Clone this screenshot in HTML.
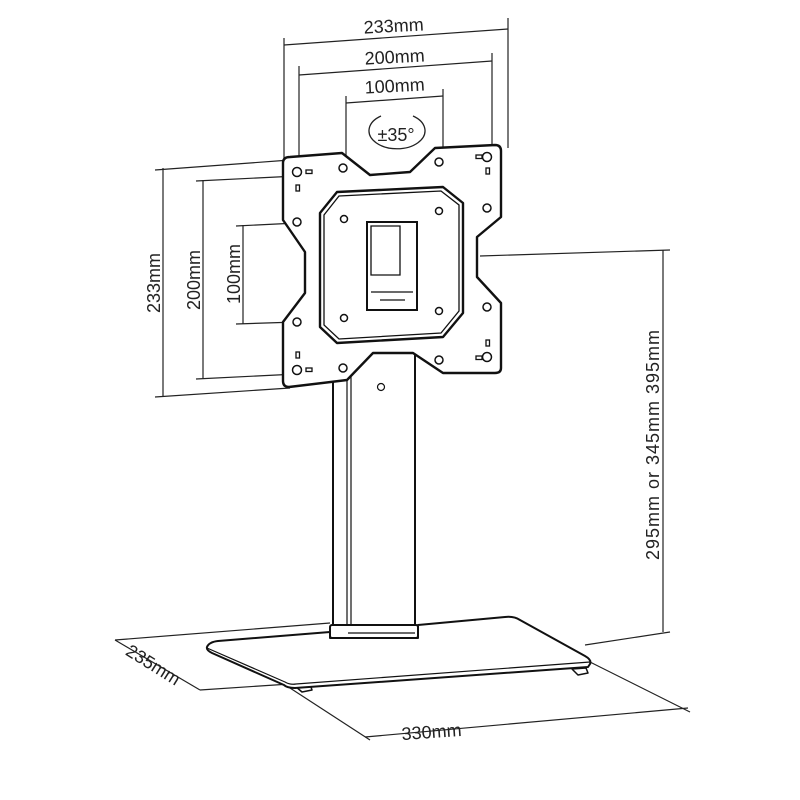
<!DOCTYPE html>
<html><head><meta charset="utf-8"><style>
html,body{margin:0;padding:0;background:#fff;width:800px;height:800px;overflow:hidden}
text{font-family:"Liberation Sans",sans-serif;font-size:18px;fill:#222}
</style></head><body>
<svg width="800" height="800" viewBox="0 0 800 800" xmlns="http://www.w3.org/2000/svg">
<g stroke="#222" fill="none" stroke-width="1.2">
<!-- top dims -->
<line x1="284" y1="38" x2="284" y2="160"/>
<line x1="508" y1="18" x2="508" y2="148"/>
<line x1="284" y1="45" x2="508" y2="29"/>
<line x1="299" y1="66" x2="299" y2="168"/>
<line x1="492" y1="53" x2="492" y2="155"/>
<line x1="299" y1="75" x2="492" y2="61"/>
<line x1="346" y1="96" x2="346" y2="165"/>
<line x1="443" y1="89" x2="443" y2="160"/>
<line x1="346" y1="103" x2="443" y2="96"/>
<path d="M381,116 A28,18 0 1 0 413,116" stroke-width="1.3"/>
<!-- left dims -->
<line x1="155" y1="170" x2="290" y2="160"/>
<line x1="155" y1="397" x2="290" y2="388"/>
<line x1="163" y1="168" x2="163" y2="397"/>
<line x1="196" y1="181" x2="297" y2="176"/>
<line x1="196" y1="379" x2="297" y2="374"/>
<line x1="203" y1="180" x2="203" y2="379"/>
<line x1="236" y1="226" x2="297" y2="223"/>
<line x1="236" y1="324" x2="297" y2="322"/>
<line x1="243" y1="225" x2="243" y2="324"/>
<!-- right dims -->
<line x1="480" y1="256" x2="670" y2="250"/>
<line x1="663" y1="250" x2="663" y2="632"/>
<line x1="585" y1="645" x2="670" y2="632"/>
<!-- base dims -->
<line x1="115" y1="640" x2="330" y2="623"/>
<line x1="115" y1="640" x2="200" y2="690"/>
<line x1="200" y1="690" x2="290" y2="684"/>
<line x1="290" y1="688" x2="370" y2="740"/>
<line x1="590" y1="662" x2="690" y2="712"/>
<line x1="365" y1="737" x2="688" y2="708"/>
</g>
<!-- column (drawn before plate) -->
<g stroke="#111" fill="#fff" stroke-width="2">
<rect x="333" y="350" width="82" height="276"/>
<rect x="330" y="625" width="88" height="13" rx="2"/>
</g>
<g stroke="#111" stroke-width="1.2">
<line x1="347" y1="370" x2="347" y2="625"/><line x1="351" y1="370" x2="351" y2="625"/>
<line x1="348" y1="633" x2="415" y2="633"/>
<circle cx="381" cy="387" r="3.5" fill="#fff"/>
</g>
<!-- plate -->
<g stroke="#111" fill="#fff" stroke-width="2.4" stroke-linejoin="round">
<path d="M290,157 L342,153 L370,175 L410,172 L435,148 L495,145 Q501,145 501,151 L501,217 L477,237 L477,277 L501,303 L501,368 Q501,373 495,373 L443,373 L413,353 L373,353 L347,380 L289,387 Q283,387 283,381 L283,322 L305,293 L305,252 L283,220 L283,163 Q283,157 290,157 Z"/>
<path d="M337,192 L443,187 L463,203 L463,313 L443,337 L337,343 L320,327 L320,213 Z"/>
</g>
<g stroke="#111" fill="none" stroke-width="1.3">
<path d="M339,196 L441,191 L459,205 L459,311 L441,333 L339,339 L324,325 L324,215 Z"/>
<rect x="367" y="222" width="50" height="88" stroke-width="2"/>
<path d="M371,226 L400,226 L400,275 L371,275 Z"/>
<path d="M371,292 L413,292 M380,300 L405,300"/>
<g fill="#fff" stroke-width="1.5">
<circle cx="297" cy="172" r="4.5"/><circle cx="487" cy="157" r="4.5"/>
<circle cx="487" cy="357" r="4.5"/><circle cx="297" cy="370" r="4.5"/>
<circle cx="343" cy="168" r="4"/><circle cx="439" cy="162" r="4"/>
<circle cx="297" cy="222" r="4"/><circle cx="487" cy="208" r="4"/>
<circle cx="487" cy="307" r="4"/><circle cx="297" cy="322" r="4"/>
<circle cx="343" cy="368" r="4"/><circle cx="439" cy="360" r="4"/>
<circle cx="344" cy="219" r="3.5"/><circle cx="439" cy="211" r="3.5"/>
<circle cx="344" cy="318" r="3.5"/><circle cx="439" cy="311" r="3.5"/>
</g>
<rect x="306" y="170" width="6" height="3.5"/><rect x="296" y="185" width="3.5" height="6"/>
<rect x="476" y="155" width="6" height="3.5"/><rect x="486" y="168" width="3.5" height="6"/>
<rect x="476" y="356" width="6" height="3.5"/><rect x="486" y="340" width="3.5" height="6"/>
<rect x="306" y="368" width="6" height="3.5"/><rect x="296" y="352" width="3.5" height="6"/>
</g>
<!-- base -->
<g stroke="#111" stroke-width="2" fill="#fff" stroke-linejoin="round">
<path d="M310,684 L312,690 L302,692 L295,686 Z" stroke-width="1.5"/>
<path d="M586,668 L588,673 L578,675 L572,669 Z" stroke-width="1.5"/>
<path d="M218,641 L330,632 L330,638 L418,638 L418,625 L505,617 Q514,616 520,620 L585,656 Q592,660 590,664 L588,667 L295,688 Q287,688 284,685 L212,653 Q206,650 207,647 Q209,642 218,641 Z"/>
<path d="M207,648 L285,682 Q290,685 296,684 L590,662" fill="none" stroke-width="1.2"/>
</g>
<!-- labels -->
<text x="394" y="32" text-anchor="middle" transform="rotate(-3 394 32)">233mm</text>
<text x="395" y="63" text-anchor="middle" transform="rotate(-3 395 63)">200mm</text>
<text x="395" y="92" text-anchor="middle" transform="rotate(-3 395 92)">100mm</text>
<text x="396" y="141" text-anchor="middle" font-size="16">±35°</text>
<text x="160" y="283" text-anchor="middle" transform="rotate(-90 160 283)">233mm</text>
<text x="200" y="280" text-anchor="middle" transform="rotate(-90 200 280)">200mm</text>
<text x="240" y="274" text-anchor="middle" transform="rotate(-90 240 274)">100mm</text>
<text x="659" y="445" text-anchor="middle" font-size="19" textLength="230" transform="rotate(-90 659 445)">295mm or 345mm 395mm</text>
<text x="150" y="670" text-anchor="middle" transform="rotate(32 150 670)">235mm</text>
<text x="432" y="738" text-anchor="middle" transform="rotate(-4 432 738)">330mm</text>
</svg>
</body></html>
